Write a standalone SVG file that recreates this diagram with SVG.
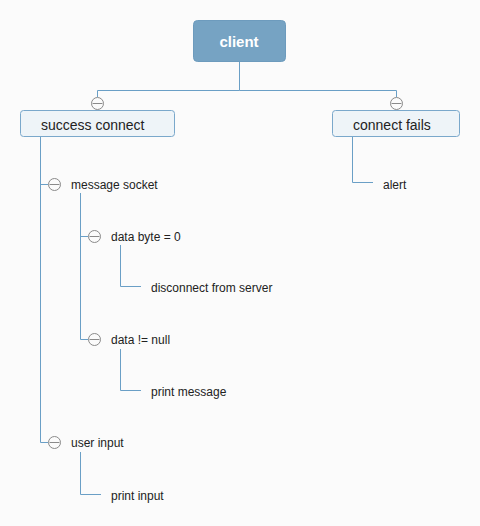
<svg xmlns="http://www.w3.org/2000/svg" width="480" height="526" viewBox="0 0 480 526">
<style>
.bg{fill:#fbfbfb}
.ln{fill:none;stroke:#6a9fc6;stroke-width:1}
.tog circle{fill:#fbfbfb;stroke:#8a8a8a;stroke-width:1}
.tog line{stroke:#8a8a8a;stroke-width:1}
.t{font-family:"Liberation Sans",Arial,sans-serif;fill:#222}
.sub{fill:#eef4f8;stroke:#7aa8cb;stroke-width:1}
</style>
<defs>
<g id="minus" class="tog"><circle cx="0" cy="0" r="6"/><line x1="-5" y1="0" x2="5" y2="0"/></g>
</defs>
<rect class="bg" width="480" height="526"/>
<g id="connectors">
<path class="ln" d="M239.5 62V90.5H97.5V97M239.5 90.5H396.5V97"/>
<path class="ln" d="M40.5 136V442.5H48M40.5 184.5H48"/>
<path class="ln" d="M352.5 136V182.5H373"/>
<path class="ln" d="M80.5 193V339.5H88M80.5 236.5H88"/>
<path class="ln" d="M120.5 245V286.5H141"/>
<path class="ln" d="M120.5 349V390.5H141"/>
<path class="ln" d="M80.5 452V494.5H101"/>
</g>
<g id="client">
<rect x="193.5" y="20.5" width="92" height="41" rx="4" fill="#76a3c3" stroke="#6d9bbd"/>
<text class="t" x="239" y="47" font-size="15" font-weight="bold" fill="#fff" style="fill:#fff" text-anchor="middle">client</text>
</g>
<g id="success-connect">
<use href="#minus" x="97.5" y="103.5"/>
<rect class="sub" x="20.5" y="110.5" width="154" height="26" rx="3"/>
<text class="t" x="41" y="130" font-size="14">success connect</text>
</g>
<g id="connect-fails">
<use href="#minus" x="396.5" y="103.5"/>
<rect class="sub" x="332.5" y="110.5" width="127" height="26" rx="3"/>
<text class="t" x="353" y="130" font-size="14">connect fails</text>
</g>
<g id="alert"><text class="t" x="383" y="189" font-size="12">alert</text></g>
<g id="message-socket">
<use href="#minus" x="54.5" y="184.5"/>
<text class="t" x="71" y="189" font-size="12">message socket</text>
</g>
<g id="data-byte">
<use href="#minus" x="94.5" y="236.5"/>
<text class="t" x="111" y="241" font-size="12">data byte = 0</text>
</g>
<g id="disconnect"><text class="t" x="151" y="292" font-size="12">disconnect from server</text></g>
<g id="data-not-null">
<use href="#minus" x="94.5" y="339.5"/>
<text class="t" x="111" y="344" font-size="12">data != null</text>
</g>
<g id="print-message"><text class="t" x="151" y="396" font-size="12">print message</text></g>
<g id="user-input">
<use href="#minus" x="54.5" y="442.5"/>
<text class="t" x="71" y="447" font-size="12">user input</text>
</g>
<g id="print-input"><text class="t" x="111" y="500" font-size="12">print input</text></g>
</svg>
